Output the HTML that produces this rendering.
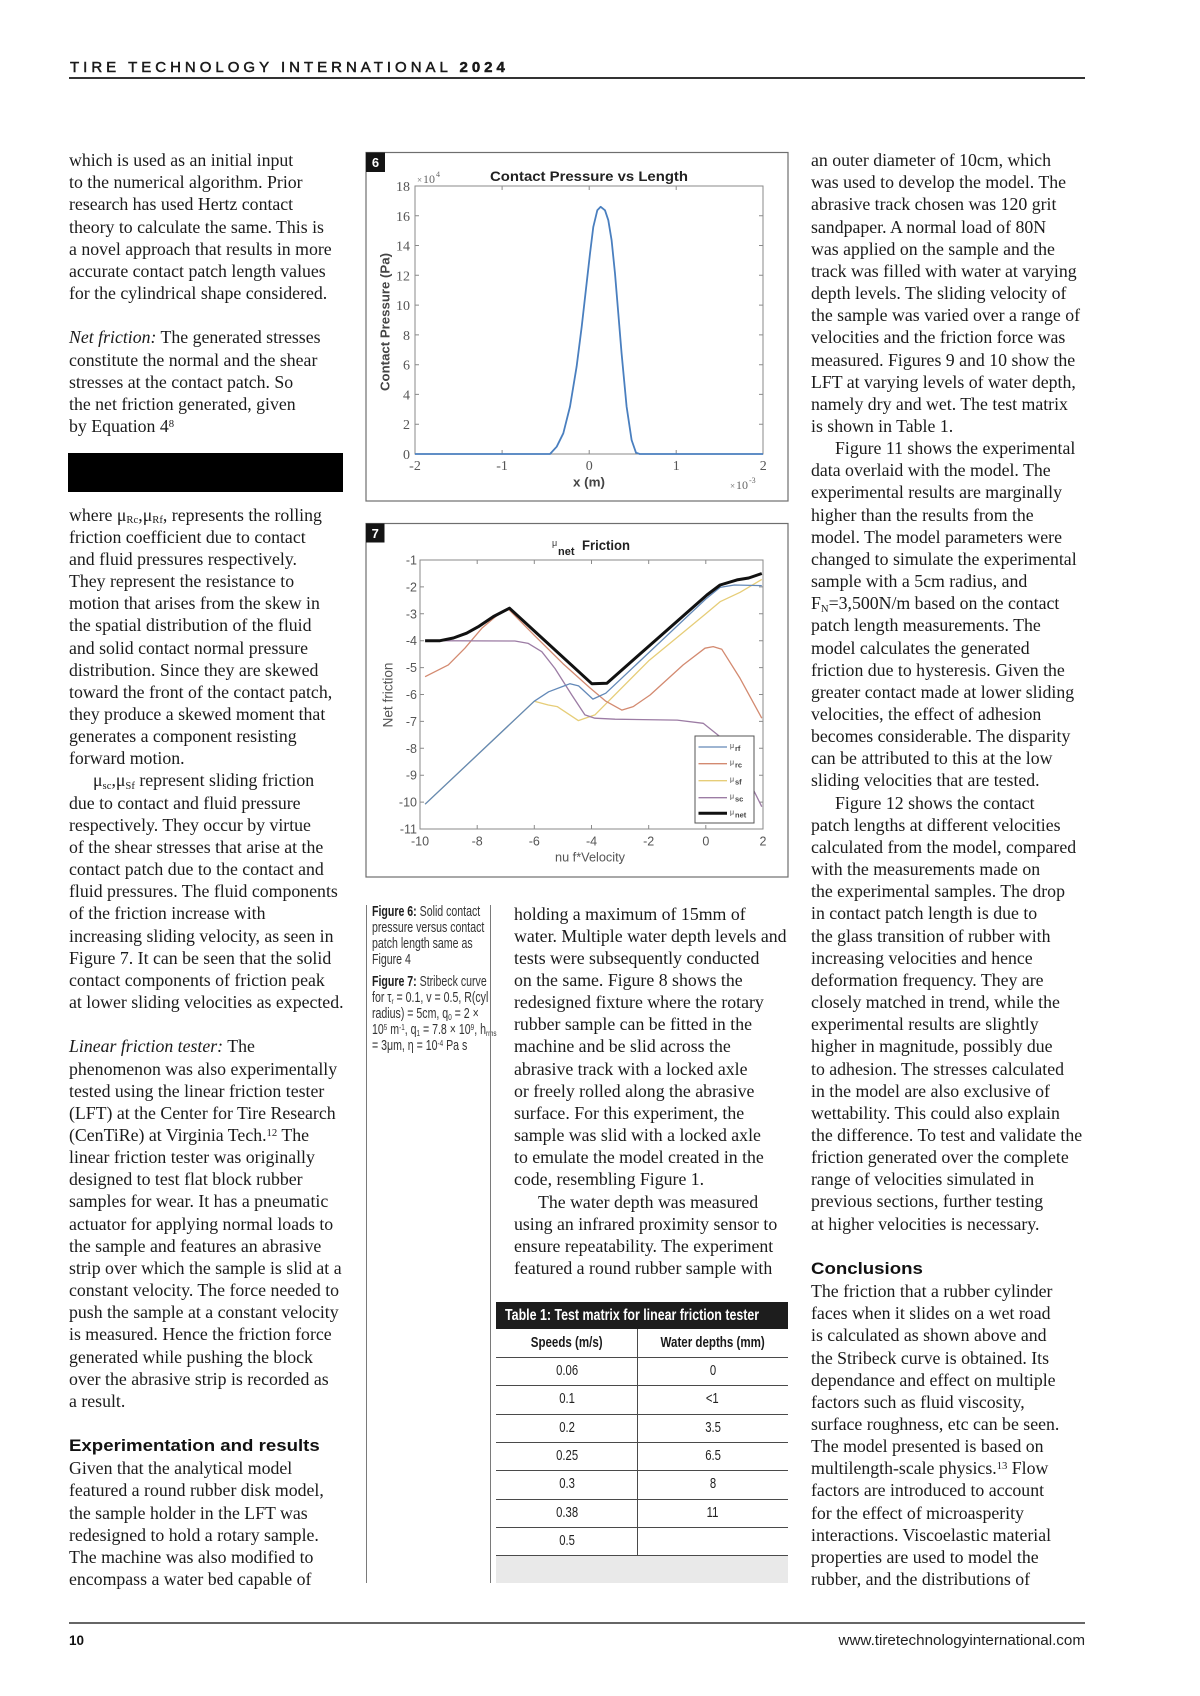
<!DOCTYPE html>
<html><head><meta charset="utf-8">
<style>
html,body{margin:0;padding:0;background:#fff}
body{width:1200px;height:1696px;position:relative;overflow:hidden}
.col{position:absolute;font-family:"Liberation Serif",serif;font-size:17.8px;line-height:22.16px;color:#1b1b1b;white-space:nowrap}
.col sub,.col sup{font-size:0.6em;vertical-align:baseline;position:relative;line-height:0}
.col sub{top:0.22em}
.col sup{top:-0.5em}
.ind{display:inline-block;width:24px}
.h{font-family:"Liberation Sans",sans-serif;font-weight:bold;font-size:16.5px;display:inline-block;transform:scaleX(1.13);transform-origin:left center;color:#111}
.cap{position:absolute;font-family:"Liberation Sans",sans-serif;font-size:14.5px;line-height:16px;color:#333;white-space:nowrap;transform:scaleX(0.73);transform-origin:left top}
.cap b{color:#1e1e1e}
.cap sub,.cap sup{font-size:0.6em;vertical-align:baseline;position:relative;line-height:0}
.cap sub{top:0.22em}.cap sup{top:-0.5em}
.hl{position:absolute;background:#4a4a4a;height:1px}
.cell{position:absolute;height:28.33px;line-height:28.33px;text-align:center;font-family:"Liberation Sans",sans-serif;font-size:14.5px;color:#222;white-space:nowrap}
.cell span{display:inline-block;transform:scaleX(0.78)}
.cell.hd{font-weight:bold;font-size:15px;color:#1a1a1a}
.cell.hd span{transform:scaleX(0.77)}
</style></head>
<body>

<!-- header -->
<div style="position:absolute;left:70px;top:60px;font-family:'Liberation Sans',sans-serif;font-size:15px;line-height:15px;letter-spacing:4px;color:#1a1a1a;white-space:nowrap;-webkit-text-stroke:0.5px #1a1a1a">TIRE TECHNOLOGY INTERNATIONAL <b>2024</b></div>
<div style="position:absolute;left:69px;top:77px;width:1016px;height:2px;background:#333"></div>

<!-- column 1 -->
<div class="col" style="left:69px;top:149.1px">
which is used as an initial input<br>
to the numerical algorithm. Prior<br>
research has used Hertz contact<br>
theory to calculate the same. This is<br>
a novel approach that results in more<br>
accurate contact patch length values<br>
for the cylindrical shape considered.<br>
<br>
<i>Net friction:</i> The generated stresses<br>
constitute the normal and the shear<br>
stresses at the contact patch. So<br>
the net friction generated, given<br>
by Equation 4<sup>8</sup><br>
<br><br><br>
where μ<sub>Rc</sub>,μ<sub>Rf</sub>, represents the rolling<br>
friction coefficient due to contact<br>
and fluid pressures respectively.<br>
They represent the resistance to<br>
motion that arises from the skew in<br>
the spatial distribution of the fluid<br>
and solid contact normal pressure<br>
distribution. Since they are skewed<br>
toward the front of the contact patch,<br>
they produce a skewed moment that<br>
generates a component resisting<br>
forward motion.<br>
<span class="ind"></span>μ<sub>sc</sub>,μ<sub>Sf</sub> represent sliding friction<br>
due to contact and fluid pressure<br>
respectively. They occur by virtue<br>
of the shear stresses that arise at the<br>
contact patch due to the contact and<br>
fluid pressures. The fluid components<br>
of the friction increase with<br>
increasing sliding velocity, as seen in<br>
Figure 7. It can be seen that the solid<br>
contact components of friction peak<br>
at lower sliding velocities as expected.<br>
<br>
<i>Linear friction tester:</i> The<br>
phenomenon was also experimentally<br>
tested using the linear friction tester<br>
(LFT) at the Center for Tire Research<br>
(CenTiRe) at Virginia Tech.<sup>12</sup> The<br>
linear friction tester was originally<br>
designed to test flat block rubber<br>
samples for wear. It has a pneumatic<br>
actuator for applying normal loads to<br>
the sample and features an abrasive<br>
strip over which the sample is slid at a<br>
constant velocity. The force needed to<br>
push the sample at a constant velocity<br>
is measured. Hence the friction force<br>
generated while pushing the block<br>
over the abrasive strip is recorded as<br>
a result.<br>
<br>
<span class="h">Experimentation and results</span><br>
Given that the analytical model<br>
featured a round rubber disk model,<br>
the sample holder in the LFT was<br>
redesigned to hold a rotary sample.<br>
The machine was also modified to<br>
encompass a water bed capable of
</div>
<div style="position:absolute;left:68px;top:453px;width:275px;height:39px;background:#000"></div>

<!-- column 2 -->
<div class="col" style="left:514px;top:902.5px">
holding a maximum of 15mm of<br>
water. Multiple water depth levels and<br>
tests were subsequently conducted<br>
on the same. Figure 8 shows the<br>
redesigned fixture where the rotary<br>
rubber sample can be fitted in the<br>
machine and be slid across the<br>
abrasive track with a locked axle<br>
or freely rolled along the abrasive<br>
surface. For this experiment, the<br>
sample was slid with a locked axle<br>
to emulate the model created in the<br>
code, resembling Figure 1.<br>
<span class="ind"></span>The water depth was measured<br>
using an infrared proximity sensor to<br>
ensure repeatability. The experiment<br>
featured a round rubber sample with
</div>

<!-- column 3 -->
<div class="col" style="left:811px;top:149.1px">
an outer diameter of 10cm, which<br>
was used to develop the model. The<br>
abrasive track chosen was 120 grit<br>
sandpaper. A normal load of 80N<br>
was applied on the sample and the<br>
track was filled with water at varying<br>
depth levels. The sliding velocity of<br>
the sample was varied over a range of<br>
velocities and the friction force was<br>
measured. Figures 9 and 10 show the<br>
LFT at varying levels of water depth,<br>
namely dry and wet. The test matrix<br>
is shown in Table 1.<br>
<span class="ind"></span>Figure 11 shows the experimental<br>
data overlaid with the model. The<br>
experimental results are marginally<br>
higher than the results from the<br>
model. The model parameters were<br>
changed to simulate the experimental<br>
sample with a 5cm radius, and<br>
F<sub>N</sub>=3,500N/m based on the contact<br>
patch length measurements. The<br>
model calculates the generated<br>
friction due to hysteresis. Given the<br>
greater contact made at lower sliding<br>
velocities, the effect of adhesion<br>
becomes considerable. The disparity<br>
can be attributed to this at the low<br>
sliding velocities that are tested.<br>
<span class="ind"></span>Figure 12 shows the contact<br>
patch lengths at different velocities<br>
calculated from the model, compared<br>
with the measurements made on<br>
the experimental samples. The drop<br>
in contact patch length is due to<br>
the glass transition of rubber with<br>
increasing velocities and hence<br>
deformation frequency. They are<br>
closely matched in trend, while the<br>
experimental results are slightly<br>
higher in magnitude, possibly due<br>
to adhesion. The stresses calculated<br>
in the model are also exclusive of<br>
wettability. This could also explain<br>
the difference. To test and validate the<br>
friction generated over the complete<br>
range of velocities simulated in<br>
previous sections, further testing<br>
at higher velocities is necessary.<br>
<br>
<span class="h">Conclusions</span><br>
The friction that a rubber cylinder<br>
faces when it slides on a wet road<br>
is calculated as shown above and<br>
the Stribeck curve is obtained. Its<br>
dependance and effect on multiple<br>
factors such as fluid viscosity,<br>
surface roughness, etc can be seen.<br>
The model presented is based on<br>
multilength-scale physics.<sup>13</sup> Flow<br>
factors are introduced to account<br>
for the effect of microasperity<br>
interactions. Viscoelastic material<br>
properties are used to model the<br>
rubber, and the distributions of
</div>

<!-- captions -->
<div class="cap" style="left:372px;top:904px"><b>Figure 6:</b> Solid contact<br>pressure versus contact<br>patch length same as<br>Figure 4</div>
<div class="cap" style="left:372px;top:974px"><b>Figure 7:</b> Stribeck curve<br>for τ<sub>r</sub> = 0.1, v = 0.5, R(cyl<br>radius) = 5cm, q<sub>0</sub> = 2 ×<br>10<sup>5</sup> m<sup>-1</sup>, q<sub>1</sub> = 7.8 × 10<sup>9</sup>, h<sub>rms</sub><br>= 3μm, η = 10<sup>-4</sup> Pa s</div>

<!-- table -->
<div style="position:absolute;left:496px;top:1302px;width:292px;height:27px;background:#1d1d1d"></div>
<div style="position:absolute;left:505px;top:1306px;font-family:'Liberation Sans',sans-serif;font-weight:bold;font-size:16px;line-height:20px;color:#fff;white-space:nowrap;transform:scaleX(0.776);transform-origin:left top">Table 1: Test matrix for linear friction tester</div>
<div class="cell hd" style="left:496px;top:1329px;width:141.5px"><span>Speeds (m/s)</span></div>
<div class="cell hd" style="left:637.5px;top:1329px;width:150.5px"><span>Water depths (mm)</span></div>
<div class="cell" style="left:496px;top:1357px;width:141.5px"><span>0.06</span></div>
<div class="cell" style="left:637.5px;top:1357px;width:150.5px"><span>0</span></div>
<div class="cell" style="left:496px;top:1385.3px;width:141.5px"><span>0.1</span></div>
<div class="cell" style="left:637.5px;top:1385.3px;width:150.5px"><span>&lt;1</span></div>
<div class="cell" style="left:496px;top:1413.7px;width:141.5px"><span>0.2</span></div>
<div class="cell" style="left:637.5px;top:1413.7px;width:150.5px"><span>3.5</span></div>
<div class="cell" style="left:496px;top:1442px;width:141.5px"><span>0.25</span></div>
<div class="cell" style="left:637.5px;top:1442px;width:150.5px"><span>6.5</span></div>
<div class="cell" style="left:496px;top:1470.3px;width:141.5px"><span>0.3</span></div>
<div class="cell" style="left:637.5px;top:1470.3px;width:150.5px"><span>8</span></div>
<div class="cell" style="left:496px;top:1498.7px;width:141.5px"><span>0.38</span></div>
<div class="cell" style="left:637.5px;top:1498.7px;width:150.5px"><span>11</span></div>
<div class="cell" style="left:496px;top:1527px;width:141.5px"><span>0.5</span></div>
<div class="hl" style="left:496px;top:1357px;width:292px"></div>
<div class="hl" style="left:496px;top:1385px;width:292px"></div>
<div class="hl" style="left:496px;top:1413.5px;width:292px"></div>
<div class="hl" style="left:496px;top:1442px;width:292px"></div>
<div class="hl" style="left:496px;top:1470px;width:292px"></div>
<div class="hl" style="left:496px;top:1498.5px;width:292px"></div>
<div class="hl" style="left:496px;top:1527px;width:292px"></div>
<div class="hl" style="left:496px;top:1555px;width:292px"></div>
<div style="position:absolute;left:637px;top:1329px;width:1px;height:226px;background:#4a4a4a"></div>
<div style="position:absolute;left:496px;top:1556px;width:292px;height:27px;background:#e9e9e9"></div>

<!-- footer -->
<div style="position:absolute;left:69px;top:1621.5px;width:1016px;height:2.5px;background:#666"></div>
<div style="position:absolute;left:69px;top:1634.3px;font-family:'Liberation Sans',sans-serif;font-weight:bold;font-size:13.5px;line-height:14px;color:#111">10</div>
<div style="position:absolute;right:115px;top:1632.7px;font-family:'Liberation Sans',sans-serif;font-size:15.2px;line-height:16px;color:#222;white-space:nowrap">www.tiretechnologyinternational.com</div>

<!-- graphics -->
<svg width="1200" height="1696" viewBox="0 0 1200 1696" style="position:absolute;left:0;top:0" xmlns="http://www.w3.org/2000/svg" font-family="Liberation Sans, sans-serif">
  <line x1="366.5" y1="905" x2="366.5" y2="1583" stroke="#7a7a7a" stroke-width="1"/>
  <line x1="490.5" y1="905" x2="490.5" y2="1583" stroke="#7a7a7a" stroke-width="1"/>

  <!-- FIGURE 6 -->
  <rect x="366" y="152.5" width="422" height="348.5" fill="#fff" stroke="#6e6e6e" stroke-width="1.2"/>
  <rect x="366" y="152.5" width="19" height="19.5" fill="#141414"/>
  <text x="375.5" y="167" fill="#fff" font-weight="bold" font-size="13" text-anchor="middle">6</text>
  <text x="589" y="181" font-size="13.5" font-weight="bold" fill="#222" text-anchor="middle" textLength="198" lengthAdjust="spacingAndGlyphs">Contact Pressure vs Length</text>
  <rect x="415" y="186" width="348" height="268" fill="#fff" stroke="#8a8a8a" stroke-width="1"/>
  <path d="M415 424.2h4M415 394.4h4M415 364.7h4M415 334.9h4M415 305.1h4M415 275.3h4M415 245.5h4M415 215.8h4
           M763 424.2h-4M763 394.4h-4M763 364.7h-4M763 334.9h-4M763 305.1h-4M763 275.3h-4M763 245.5h-4M763 215.8h-4
           M502.1 454v-4M589.2 454v-4M676.2 454v-4M502.1 186v4M589.2 186v4M676.2 186v4" stroke="#8a8a8a" stroke-width="1" fill="none"/>
  <g font-family="Liberation Serif, serif" font-size="14" fill="#555" text-anchor="end">
    <text x="410" y="459">0</text><text x="410" y="429.2">2</text><text x="410" y="399.4">4</text>
    <text x="410" y="369.7">6</text><text x="410" y="339.9">8</text><text x="410" y="310.1">10</text>
    <text x="410" y="280.3">12</text><text x="410" y="250.5">14</text><text x="410" y="220.8">16</text>
    <text x="410" y="191">18</text>
  </g>
  <g font-family="Liberation Serif, serif" font-size="14" fill="#555" text-anchor="middle">
    <text x="415" y="470">-2</text><text x="502.1" y="470">-1</text><text x="589.2" y="470">0</text>
    <text x="676.2" y="470">1</text><text x="763.3" y="470">2</text>
  </g>
  <g font-family="Liberation Serif, serif" fill="#666">
    <text x="417" y="183" font-size="9">×</text><text x="423" y="183" font-size="12">10</text><text x="436" y="177" font-size="8">4</text>
    <text x="730" y="489" font-size="9">×</text><text x="736" y="489" font-size="12">10</text><text x="749" y="483" font-size="8">-3</text>
  </g>
  <text x="589" y="486.5" font-size="12.5" font-weight="bold" fill="#444" text-anchor="middle" textLength="32" lengthAdjust="spacingAndGlyphs">x (m)</text>
  <text transform="translate(389.5,322) rotate(-90)" font-size="12.5" font-weight="bold" fill="#444" text-anchor="middle" textLength="138" lengthAdjust="spacingAndGlyphs">Contact Pressure (Pa)</text>
  <polyline fill="none" stroke="#4a7fbf" stroke-width="1.8" stroke-linejoin="round"
    points="415,454 550,454 556.7,446.7 563.3,433.3 570,406.6 576.6,366.7 581.7,326.8 586.6,283.5 590,253.6 593.3,226.9 597.3,210.3 600.7,206.8 605,210.3 608.3,220.2 611.6,240.2 615,273.5 618.3,313.4 621.6,353.5 626.6,406.6 631.6,440 636,452.7 639.7,454 763,454"/>

  <!-- FIGURE 7 -->
  <rect x="366" y="523.5" width="422" height="353.5" fill="#fff" stroke="#6e6e6e" stroke-width="1.2"/>
  <rect x="366" y="523.5" width="18.5" height="19" fill="#141414"/>
  <text x="375.3" y="538" fill="#fff" font-weight="bold" font-size="13" text-anchor="middle">7</text>
  <text x="552" y="546" font-size="9" fill="#333">μ</text>
  <text x="558" y="555" font-size="11" font-weight="bold" fill="#222">net</text>
  <text x="582" y="550" font-size="13.5" font-weight="bold" fill="#222" textLength="48" lengthAdjust="spacingAndGlyphs">Friction</text>
  <rect x="420" y="560" width="343" height="269" fill="#fff" stroke="#8a8a8a" stroke-width="1"/>
  <path d="M420 586.9h4M420 613.8h4M420 640.7h4M420 667.6h4M420 694.5h4M420 721.4h4M420 748.3h4M420 775.2h4M420 802.1h4
           M763 586.9h-4M763 613.8h-4M763 640.7h-4M763 667.6h-4M763 694.5h-4M763 721.4h-4M763 748.3h-4M763 775.2h-4M763 802.1h-4
           M477.2 829v-4M534.3 829v-4M591.5 829v-4M648.7 829v-4M705.8 829v-4
           M477.2 560v4M534.3 560v4M591.5 560v4M648.7 560v4M705.8 560v4" stroke="#8a8a8a" stroke-width="1" fill="none"/>
  <g font-size="12.5" fill="#555" text-anchor="end">
    <text x="417" y="564.5">-1</text><text x="417" y="591.4">-2</text><text x="417" y="618.3">-3</text>
    <text x="417" y="645.2">-4</text><text x="417" y="672.1">-5</text><text x="417" y="699">-6</text>
    <text x="417" y="725.9">-7</text><text x="417" y="752.8">-8</text><text x="417" y="779.7">-9</text>
    <text x="417" y="806.6">-10</text><text x="417" y="833.5">-11</text>
  </g>
  <g font-size="12.5" fill="#555" text-anchor="middle">
    <text x="420" y="845.5">-10</text><text x="477.2" y="845.5">-8</text><text x="534.3" y="845.5">-6</text>
    <text x="591.5" y="845.5">-4</text><text x="648.7" y="845.5">-2</text><text x="705.8" y="845.5">0</text>
    <text x="763" y="845.5">2</text>
  </g>
  <text x="590" y="861.5" font-size="13" fill="#555" text-anchor="middle" textLength="70" lengthAdjust="spacingAndGlyphs">nu f*Velocity</text>
  <text transform="translate(392.5,695) rotate(-90)" font-size="13.6" fill="#555" text-anchor="middle" textLength="65" lengthAdjust="spacingAndGlyphs">Net friction</text>

  <g fill="none" stroke-linejoin="round" stroke-width="1.3">
    <polyline stroke="#e6cd78" points="425.1,804.2 534.3,701.2 548.3,705 557.2,706.6 578.3,720.6 594.9,714.9 605.8,703.9 648.6,660.9 705.8,613.8 720.1,601.7 740.1,592.3 761.8,579.4"/>
    <polyline stroke="#d38a70" points="425.1,676.7 448.3,664.9 464.9,648.2 481.8,628.3 498.4,614.3 508.3,609 534.3,635.3 562.9,663.6 590.1,688 605.8,701.2 621.8,710.1 633.2,706.6 650.1,695 683.2,664.9 705,648.2 713.2,646.6 721.8,649.3 740.1,678.4 761.8,718.2"/>
    <polyline stroke="#9c7ca4" points="425.1,640.7 514.9,641 528.3,643.4 541.8,651.7 554.9,668.4 571.8,695 584.9,714.9 594.9,718.2 615,719.2 677.2,720.1 703.2,723.3 720.1,736.7 734.4,759.1 751.5,786 761.8,806.7"/>
    <polyline stroke="#6389b8" points="425.1,804.2 534.3,701.2 548.6,691.8 562.9,686.4 570,683.7 578.6,685.9 592.9,699.1 605.8,693.2 705.8,599 720.1,587.4 734.4,585 761.8,585.6"/>
    <polyline stroke="#111" stroke-width="3" points="425.1,640.7 440,640.7 453.4,638 466.6,633.2 478.3,626.7 493.5,616.5 509.5,608.2 591.8,683.7 606.9,683.2 706.9,595 720.1,585 737,579.9 748.7,578 761.8,573.5"/>
  </g>
  <rect x="695" y="736" width="59" height="87" fill="#fff" stroke="#555" stroke-width="1"/>
  <line x1="698.5" y1="747" x2="727" y2="747" stroke="#6389b8" stroke-width="1.3"/>
  <line x1="698.5" y1="763.7" x2="727" y2="763.7" stroke="#d38a70" stroke-width="1.3"/>
  <line x1="698.5" y1="780.7" x2="727" y2="780.7" stroke="#e6cd78" stroke-width="1.3"/>
  <line x1="698.5" y1="797.7" x2="727" y2="797.7" stroke="#9c7ca4" stroke-width="1.3"/>
  <line x1="698.5" y1="813.3" x2="727" y2="813.3" stroke="#111" stroke-width="3"/>
  <g fill="#444">
    <text x="730" y="748" font-size="7">μ</text><text x="735" y="751" font-size="7.5" font-weight="bold">rf</text>
    <text x="730" y="764.7" font-size="7">μ</text><text x="735" y="767.7" font-size="7.5" font-weight="bold">rc</text>
    <text x="730" y="781.7" font-size="7">μ</text><text x="735" y="784.7" font-size="7.5" font-weight="bold">sf</text>
    <text x="730" y="798.7" font-size="7">μ</text><text x="735" y="801.7" font-size="7.5" font-weight="bold">sc</text>
    <text x="730" y="814.3" font-size="7">μ</text><text x="735" y="817.3" font-size="7.5" font-weight="bold">net</text>
  </g>
</svg>
</body></html>
